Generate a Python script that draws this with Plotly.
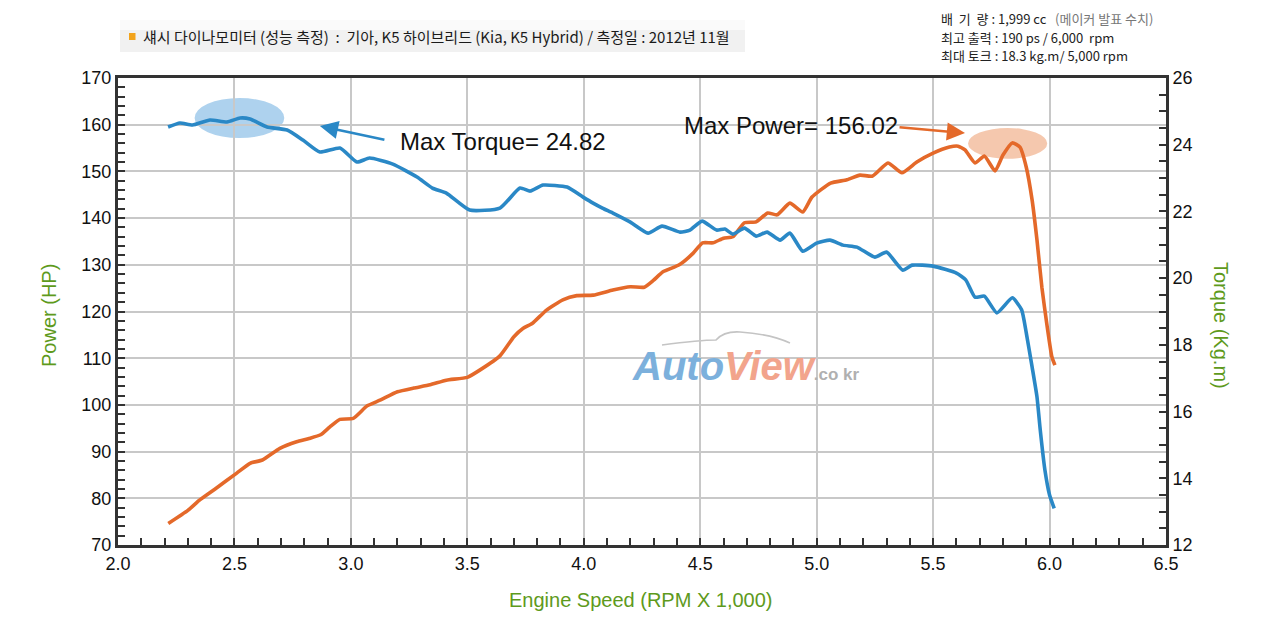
import plotly.graph_objects as go

# ---------------- data ----------------
rpm_power = [2.216, 2.30, 2.35, 2.42, 2.51, 2.567, 2.62, 2.695, 2.767, 2.82, 2.87, 2.91, 2.953, 3.01,
             3.07, 3.125, 3.20, 3.27, 3.34, 3.41, 3.50, 3.555, 3.64, 3.70, 3.74, 3.78, 3.84, 3.91,
             3.97, 4.04, 4.125, 4.20, 4.26, 4.30, 4.34, 4.41, 4.47, 4.51, 4.555, 4.60, 4.64, 4.69,
             4.74, 4.79, 4.83, 4.885, 4.94, 4.98, 5.06, 5.13, 5.186, 5.24, 5.306, 5.366, 5.43, 5.50,
             5.57, 5.607, 5.637, 5.68, 5.72, 5.766, 5.80, 5.84, 5.873, 5.90, 5.925, 5.946, 5.967,
             5.99, 6.01, 6.023]
power_hp = [74.6, 77.4, 79.6, 82.1, 85.4, 87.5, 88.2, 90.7, 92.1, 92.8, 93.6, 95.3, 96.9, 97.1,
            99.8, 101.0, 102.8, 103.6, 104.3, 105.3, 105.9, 107.5, 110.5, 114.6, 116.4, 117.5, 120.3, 122.5,
            123.4, 123.5, 124.6, 125.3, 125.2, 126.7, 128.5, 130.0, 132.5, 134.7, 134.7, 135.7, 136.0, 139.0,
            139.2, 141.1, 140.7, 143.2, 141.3, 144.5, 147.5, 148.2, 149.2, 149.0, 151.8, 149.7, 152.0, 153.9,
            155.2, 155.4, 154.6, 151.8, 153.3, 150.1, 153.5, 156.1, 155.2, 150.9, 143.9, 135.3, 125.2,
            116.7, 110.3, 108.5]

rpm_torque = [2.215, 2.266, 2.32, 2.395, 2.468, 2.524, 2.567, 2.64, 2.726, 2.794, 2.867, 2.953, 3.026,
              3.08, 3.18, 3.284, 3.35, 3.41, 3.51, 3.64, 3.726, 3.77, 3.825, 3.928, 3.997, 4.04, 4.08,
              4.125, 4.20, 4.276, 4.336, 4.413, 4.456, 4.508, 4.57, 4.606, 4.64, 4.69, 4.74, 4.787,
              4.843, 4.885, 4.94, 5.00, 5.057, 5.113, 5.173, 5.25, 5.30, 5.37, 5.41, 5.50, 5.60, 5.64,
              5.68, 5.72, 5.774, 5.84, 5.88, 5.90, 5.925, 5.946, 5.96, 5.98, 6.00, 6.02]
torque_kgm = [24.53, 24.65, 24.59, 24.74, 24.68, 24.80, 24.77, 24.53, 24.44, 24.14, 23.78, 23.90, 23.48,
              23.60, 23.42, 23.03, 22.70, 22.55, 22.04, 22.10, 22.70, 22.61, 22.79, 22.73, 22.43, 22.25, 22.10,
              21.95, 21.68, 21.35, 21.56, 21.38, 21.44, 21.71, 21.44, 21.47, 21.32, 21.50, 21.26, 21.38,
              21.14, 21.35, 20.81, 21.05, 21.14, 20.99, 20.93, 20.63, 20.78, 20.24, 20.39, 20.36, 20.15, 19.95,
              19.43, 19.46, 18.96, 19.41, 19.05, 18.36, 17.34, 16.44, 15.45, 14.25, 13.5, 13.1]

x_ticks = [2.0, 2.5, 3.0, 3.5, 4.0, 4.5, 5.0, 5.5, 6.0, 6.5]
power_ticks = [70, 80, 90, 100, 110, 120, 130, 140, 150, 160, 170]
torque_ticks = [12, 14, 16, 18, 20, 22, 24, 26]

title_text = "섀시 다이나모미터 (성능 측정)  :  기아, K5 하이브리드 (Kia, K5 Hybrid) / 측정일 : 2012년 11월"
spec_lines = [
    "배  기  량 : 1,999 cc   <span style='color:#777'>(메이커 발표 수치)</span>",
    "최고 출력 : 190 ps / 6,000  rpm",
    "최대 토크 : 18.3 kg.m/ 5,000 rpm",
]
torque_label = "Max Torque= 24.82"
power_label = "Max Power= 156.02"

# ---------------- style ----------------
BLUE = "#2a88c6"
ORANGE = "#e4692a"
GREEN = "#5e9a1c"
AXIS = "#333333"
GRID = "#c8c8c8"
OFF = 8                      # default page body margin
W, H = 1280 - OFF, 620 - OFF
PL, PR, PT, PB = 118, 1166, 78, 545   # plot area in screen pixels
ML, MT = PL - OFF, PT - OFF
MR, MB = W - (PR - OFF), H - (PB - OFF)
PW, PH = PR - PL, PB - PT


def px(x):
    return (x - PL) / PW


def py(y):
    return (PB - y) / PH


fig = go.Figure()
fig.add_trace(go.Scatter(x=rpm_power, y=power_hp, mode="lines", name="Power",
                         line=dict(color=ORANGE, width=3.6, shape="spline", smoothing=0.5),
                         yaxis="y", hoverinfo="x+y"))
fig.add_trace(go.Scatter(x=rpm_torque, y=torque_kgm, mode="lines", name="Torque",
                         line=dict(color=BLUE, width=3.6, shape="spline", smoothing=0.5),
                         yaxis="y2", hoverinfo="x+y"))

# peaks
ti = max(range(len(torque_kgm)), key=lambda i: torque_kgm[i])
pi = max(range(len(power_hp)), key=lambda i: power_hp[i])
t_x, t_y = rpm_torque[ti], torque_kgm[ti]
p_x, p_y = rpm_power[pi], power_hp[pi]

shapes = [
    dict(type="circle", xref="x", yref="y2", layer="below",
         x0=t_x - 0.195, x1=t_x + 0.19, y0=t_y - 0.6, y1=t_y + 0.6,
         fillcolor="rgba(120,180,226,0.6)", line=dict(width=0)),
    dict(type="circle", xref="x", yref="y", layer="below",
         x0=p_x - 0.19, x1=p_x + 0.15, y0=p_y - 3.4, y1=p_y + 3.2,
         fillcolor="rgba(240,170,130,0.65)", line=dict(width=0)),
    # header box
    dict(type="rect", xref="paper", yref="paper", layer="below",
         x0=px(120), x1=px(745), y0=py(52), y1=py(20),
         fillcolor="#f1f1f1", line=dict(width=0)),
    dict(type="rect", xref="paper", yref="paper", layer="below",
         x0=px(120), x1=px(745), y0=py(30), y1=py(20),
         fillcolor="#fafafa", line=dict(width=0)),
    dict(type="rect", xref="paper", yref="paper",
         x0=px(129), x1=px(135.5), y0=py(40), y1=py(33),
         fillcolor="#f2a31b", line=dict(width=0)),
    # watermark swoosh
    dict(type="path", xref="paper", yref="paper", layer="below",
         path=f"M {px(662)},{py(345)} Q {px(700)},{py(340)} {px(716)},{py(340)} "
              f"Q {px(724)},{py(331)} {px(740)},{py(332)} Q {px(770)},{py(334)} {px(790)},{py(343)}",
         line=dict(color="#c4c4c4", width=1.6)),
]

annotations = [
    # header
    dict(xref="paper", yref="paper", x=px(141), y=py(36.5), xanchor="left", yanchor="middle",
         text=title_text, showarrow=False,
         font=dict(family="Noto Sans CJK KR", size=15, color="#1a1a1a")),
    # axis titles
    dict(xref="paper", yref="paper", x=px(49), y=py(316), text="Power (HP)", textangle=-90,
         showarrow=False, xanchor="center", yanchor="middle",
         font=dict(family="Liberation Sans", size=20, color=GREEN)),
    dict(xref="paper", yref="paper", x=px(1221), y=py(325), text="Torque (Kg.m)", textangle=90,
         showarrow=False, xanchor="center", yanchor="middle",
         font=dict(family="Liberation Sans", size=20, color=GREEN)),
    dict(xref="paper", yref="paper", x=px(641), y=py(600), text="Engine Speed (RPM X 1,000)",
         showarrow=False, xanchor="center", yanchor="middle",
         font=dict(family="Liberation Sans", size=20, color=GREEN)),
    # peak labels
    dict(xref="x", yref="y", x=3.653, y=156.5, text=torque_label, showarrow=False,
         xanchor="center", yanchor="middle",
         font=dict(family="Liberation Sans", size=24, color="#111")),
    dict(xref="x", yref="y", x=4.89, y=159.9, text=power_label, showarrow=False,
         xanchor="center", yanchor="middle",
         font=dict(family="Liberation Sans", size=24, color="#111")),
    # arrows
    dict(xref="x", yref="y2", x=2.867, y=24.56, ax=66, ay=14, text="", showarrow=True,
         arrowhead=2, arrowsize=1.4, arrowwidth=2.6, arrowcolor=BLUE, standoff=0),
    dict(xref="x", yref="y", x=5.637, y=158.2, ax=-67, ay=-6, text="", showarrow=True,
         arrowhead=2, arrowsize=1.4, arrowwidth=2.6, arrowcolor=ORANGE, standoff=0),
    # watermark
    dict(xref="paper", yref="paper", x=px(745), y=py(366), xanchor="center", yanchor="middle",
         showarrow=False,
         text="<b><i><span style='color:#7cb0dc'>Auto</span><span style='color:#f2a48c'>View</span></i></b>"
              "<span style='color:#b0b0b0;font-size:17px'><b>.co kr</b></span>",
         font=dict(family="Liberation Sans", size=40)),
]

spec_y = [18.5, 37, 55.5]
for line, yy in zip(spec_lines, spec_y):
    annotations.append(dict(xref="paper", yref="paper", x=px(939), y=py(yy), xanchor="left",
                            yanchor="middle", text=line, showarrow=False,
                            font=dict(family="Noto Sans CJK KR", size=13, color="#222")))

tickfont = dict(family="Liberation Sans", size=18, color="#111")

fig.update_layout(
    width=W, height=H,
    margin=dict(l=ML, r=MR, t=MT, b=MB, autoexpand=False),
    paper_bgcolor="white", plot_bgcolor="white",
    showlegend=False,
    shapes=shapes, annotations=annotations,
    xaxis=dict(range=[2.0, 6.5], tickvals=x_ticks, ticktext=[f"{v:.1f}" for v in x_ticks],
               showgrid=True, gridcolor=GRID, gridwidth=2,
               showline=True, linecolor=AXIS, linewidth=3, mirror=True,
               ticks="inside", ticklen=7, tickwidth=2, tickcolor=AXIS,
               minor=dict(dtick=0.1, tick0=2.0, ticks="inside", ticklen=7, tickwidth=2,
                          tickcolor=AXIS, showgrid=False),
               tickfont=tickfont, zeroline=False, automargin=False),
    yaxis=dict(range=[70, 170], tickvals=power_ticks,
               showgrid=True, gridcolor=GRID, gridwidth=2,
               showline=True, linecolor=AXIS, linewidth=3,
               ticks="inside", ticklen=7, tickwidth=2, tickcolor=AXIS,
               minor=dict(dtick=2, tick0=70, ticks="inside", ticklen=7, tickwidth=2,
                          tickcolor=AXIS, showgrid=False),
               tickfont=tickfont, zeroline=False, automargin=False),
    yaxis2=dict(range=[12, 26], tickvals=torque_ticks, overlaying="y", side="right",
                showgrid=False, showline=True, linecolor=AXIS, linewidth=3,
                ticks="inside", ticklen=7, tickwidth=2, tickcolor=AXIS,
                minor=dict(dtick=0.5, tick0=12, ticks="inside", ticklen=7, tickwidth=2,
                           tickcolor=AXIS, showgrid=False),
                tickfont=tickfont, zeroline=False, automargin=False),
)

fig.write_html("out.html")
